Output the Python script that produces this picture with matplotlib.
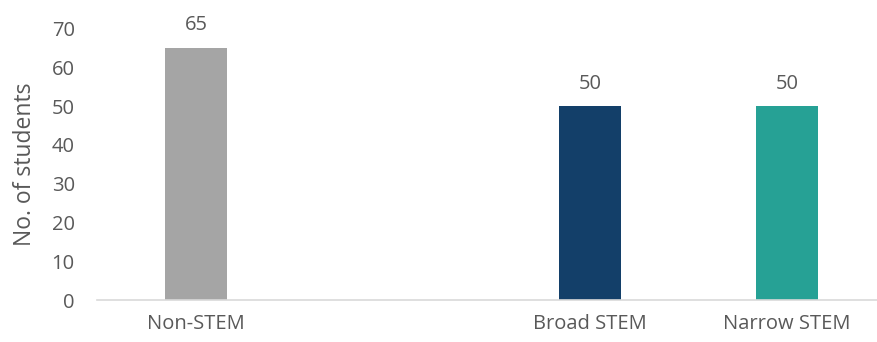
import matplotlib
matplotlib.use("Agg")
import matplotlib.pyplot as plt

categories = ["Non-STEM", "", "Broad STEM", "Narrow STEM"]
values = [65, None, 50, 50]
colors = ["#A5A5A5", None, "#133F69", "#26A195"]
yticks = [0, 10, 20, 30, 40, 50, 60, 70]

plt.rcParams['font.family'] = ['Open Sans', 'DejaVu Sans']
text_color = "#595959"

fig = plt.figure(figsize=(8.77, 3.42), dpi=100)
ax = fig.add_axes([97/877, 42/342, 1 - 97/877, (300 - 28.6)/342])

xs = [i for i, v in enumerate(values) if v is not None]
vs = [v for v in values if v is not None]
cs = [c for c, v in zip(colors, values) if v is not None]
bars = ax.bar(xs, vs, width=0.315, color=cs, zorder=2)
for b, v in zip(bars, vs):
    ax.annotate(str(v), (b.get_x() + b.get_width()/2, v), xytext=(0, 9),
                textcoords="offset points", ha="center", va="bottom",
                fontsize=14.5, color=text_color)

ax.set_xlim(-0.503, 3.457)
ax.set_ylim(0, 70)
ax.set_yticks(yticks)
ax.set_xticks(range(len(categories)))
ax.set_xticklabels(categories)
ax.tick_params(axis="both", length=0, labelsize=14.5, labelcolor=text_color)
ax.tick_params(axis="y", pad=16)
ax.tick_params(axis="x", pad=10)
for s in ["top", "right", "left"]:
    ax.spines[s].set_visible(False)
ax.spines["bottom"].set_color("#D9D9D9")
ax.spines["bottom"].set_linewidth(1.2)
ax.set_ylabel("No. of students", fontsize=16.5, color=text_color)
ax.yaxis.set_label_coords(-0.077, 0.5)

fig.savefig("out.png", dpi=100)
